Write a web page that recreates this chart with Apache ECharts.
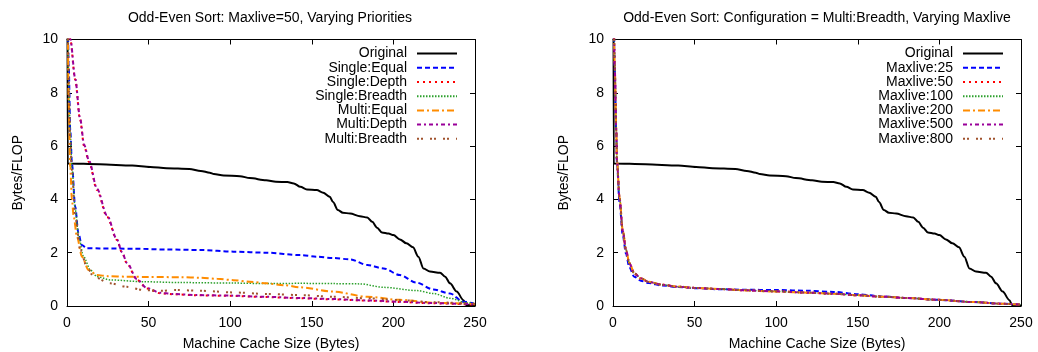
<!DOCTYPE html>
<html>
<head>
<meta charset="utf-8">
<script src="https://cdn.jsdelivr.net/npm/echarts@6/dist/echarts.min.js"></script>
<style>
html,body{margin:0;padding:0;background:#fff;}
#c{width:1038px;height:352px;}
</style>
</head>
<body>
<div id="c"></div>
<script>
// ---------- data ----------
const leftTitle = 'Odd-Even Sort: Maxlive=50, Varying Priorities';
const rightTitle = 'Odd-Even Sort: Configuration = Multi:Breadth, Varying Maxlive';
const xName = 'Machine Cache Size (Bytes)';
const yName = 'Bytes/FLOP';

const leftNames = ['Original','Single:Equal','Single:Depth','Single:Breadth','Multi:Equal','Multi:Depth','Multi:Breadth'];
const rightNames = ['Original','Maxlive:25','Maxlive:50','Maxlive:100','Maxlive:200','Maxlive:500','Maxlive:800'];

const original = [[0.3,12],[0.4,5.35],[20,5.32],[40,5.27],[51,5.22],[61,5.17],[75,5.14],[82,5.07],[87.5,5.0],[90,4.95],[96,4.9],[106,4.87],[112,4.8],[122,4.72],[128,4.66],[135,4.65],[139,4.6],[143,4.47],[147,4.37],[153,4.35],[157,4.25],[161,4.1],[163,3.9],[166,3.6],[169,3.5],[173.5,3.47],[179.5,3.37],[184,3.32],[187,3.16],[190,2.94],[193,2.76],[197,2.72],[200,2.66],[204,2.5],[208,2.35],[212,2.2],[215.3,1.85],[218.4,1.41],[222.4,1.29],[228.6,1.25],[231.7,1.1],[234.7,0.85],[238.8,0.54],[242.9,0.22],[244.5,0.04],[250,0.02]];

const singleEqual = [[0.5,11],[1,9.1],[2,6.6],[3,5.35],[5,3.73],[7,2.73],[9,2.29],[12,2.17],[20,2.16],[41,2.15],[61,2.12],[82,2.1],[102,2.04],[122.5,2.0],[143,1.91],[153,1.85],[163,1.8],[173.5,1.75],[184,1.54],[194,1.41],[204,1.16],[214,0.88],[224.5,0.62],[234.7,0.47],[242.8,0.16],[249,0.1]];
const singleDepth = [[1,11],[2,10],[5,8.5],[8,7.0],[10.5,6.0],[13.5,5.4],[18.4,4.35],[24.5,3.35],[30.6,2.48],[33.7,2.0],[36.7,1.6],[42.9,0.98],[49,0.66],[57,0.48],[65,0.44],[80,0.4],[100,0.38],[120,0.34],[143,0.29],[163,0.25],[184,0.2],[204,0.15],[224,0.1],[250,0.05]];
const singleBreadth = [[0.5,11],[1,8.5],[2,6.5],[3,5.2],[5.1,3.6],[7.1,2.6],[10.2,1.85],[14.3,1.35],[18.4,1.1],[26.5,0.98],[46.9,0.91],[69.4,0.88],[102,0.86],[122.5,0.84],[143,0.85],[163,0.84],[179.6,0.83],[194,0.7],[214.3,0.58],[224.5,0.47],[234.7,0.29],[245,0.12],[250,0.1]];
const multiEqual = [[0.5,11],[1,7.7],[2,5.2],[3,4.0],[4.1,3.35],[6.1,2.6],[9.2,1.85],[13.2,1.35],[18.4,1.16],[25,1.12],[36.7,1.1],[50,1.09],[69.4,1.08],[82,1.06],[92,1.02],[102,0.97],[112,0.91],[122.5,0.85],[133,0.78],[143,0.7],[163,0.54],[184,0.35],[204,0.23],[224.5,0.12],[250,0.07]];
const multiDepth = [[1,11],[2.1,10],[5,8.55],[8,7.05],[10.5,6.05],[13.5,5.45],[18.4,4.4],[24.5,3.4],[30.6,2.5],[33.7,2.02],[36.7,1.62],[42.9,1.0],[49,0.67],[57,0.5],[65,0.45],[80,0.41],[100,0.39],[120,0.35],[143,0.3],[163,0.26],[184,0.21],[204,0.16],[224,0.11],[250,0.06]];
const multiBreadth = [[0.5,11],[1,8.5],[2,6.2],[3,5.1],[5,3.35],[8.2,2.1],[12.2,1.47],[16.3,1.1],[26.5,0.85],[36.7,0.72],[46.9,0.6],[57,0.57],[67,0.6],[82,0.57],[102,0.51],[122.5,0.45],[143,0.41],[163,0.35],[184,0.29],[204,0.22],[224.5,0.14],[250,0.08]];

const maxlive25 = [[0.5,11],[1,9.0],[2,6.5],[2.4,5.4],[4,3.9],[6,2.65],[8,1.95],[10,1.45],[13,1.1],[17,0.95],[22,0.86],[30,0.77],[40,0.71],[50,0.67],[65,0.63],[80,0.61],[100,0.6],[120,0.57],[135,0.53],[150,0.44],[165,0.36],[180,0.3],[200,0.23],[220,0.15],[240,0.08],[250,0.05]];
const maxlive50 = [[0.5,11],[1,9.1],[2,6.6],[2.4,5.45],[4,4.05],[6,2.8],[8,2.08],[10,1.6],[13,1.22],[17,1.03],[22,0.9],[30,0.8],[40,0.72],[50,0.68],[65,0.64],[80,0.59],[100,0.55],[120,0.5],[135,0.46],[150,0.4],[165,0.35],[180,0.3],[200,0.23],[220,0.15],[240,0.08],[250,0.05]];
const maxlive100 = [[0.5,11],[1,9.1],[2,6.6],[2.4,5.45],[4,4.06],[6,2.82],[8,2.1],[10,1.61],[13,1.23],[17,1.04],[22,0.9],[30,0.8],[40,0.72],[50,0.68],[65,0.64],[80,0.59],[100,0.55],[120,0.5],[135,0.46],[150,0.4],[165,0.35],[180,0.3],[200,0.23],[220,0.15],[240,0.08],[250,0.05]];
const maxlive200 = [[0.5,11],[1,9.15],[2,6.65],[2.4,5.5],[4,4.08],[6,2.83],[8,2.1],[10,1.62],[13,1.24],[17,1.04],[22,0.91],[30,0.8],[40,0.73],[50,0.68],[65,0.64],[80,0.59],[100,0.54],[120,0.5],[135,0.46],[150,0.4],[165,0.35],[180,0.3],[200,0.23],[220,0.15],[240,0.08],[250,0.05]];
const maxlive500 = [[0.5,11],[1,9.1],[2,6.6],[2.4,5.45],[4,4.06],[6,2.81],[8,2.09],[10,1.61],[13,1.23],[17,1.04],[22,0.9],[30,0.8],[40,0.72],[50,0.68],[65,0.64],[80,0.59],[100,0.55],[120,0.5],[135,0.46],[150,0.4],[165,0.35],[180,0.3],[200,0.23],[220,0.15],[240,0.08],[250,0.05]];
const maxlive800 = [[0.5,11],[1,9.12],[2,6.62],[2.4,5.47],[4,4.07],[6,2.82],[8,2.1],[10,1.61],[13,1.23],[17,1.04],[22,0.9],[30,0.8],[40,0.72],[50,0.68],[65,0.64],[80,0.59],[100,0.54],[120,0.5],[135,0.46],[150,0.4],[165,0.35],[180,0.3],[200,0.23],[220,0.15],[240,0.08],[250,0.05]];

const leftData = [original, singleEqual, singleDepth, singleBreadth, multiEqual, multiDepth, multiBreadth];
const rightData = [original, maxlive25, maxlive50, maxlive100, maxlive200, maxlive500, maxlive800];

// ---------- styles ----------
const FONT = '"Liberation Sans", Arial, Helvetica, sans-serif';
const FS = 14;
const styles = [
  {color:'#000000', type:'solid', width:2},
  {color:'#0000ff', type:[5,3], width:2},
  {color:'#ff0000', type:[2,4], width:2},
  {color:'#2ca02c', type:[1.5,1.5], width:1.5},
  {color:'#ff8c00', type:[7,3,2,3], width:2},
  {color:'#990099', type:[4,3,2,3], width:2},
  {color:'#a0522d', type:[2,2,2,7], width:2}
];

const X_MIN = 0, X_MAX = 250, X_INT = 50;
const Y_MIN = 0, Y_MAX = 10, Y_INT = 2;

function mkX(gridIndex, pos) {
  const main = pos === 'bottom';
  return {
    type:'value', gridIndex, position:pos, min:X_MIN, max:X_MAX, interval:X_INT,
    name: main ? xName : '', nameLocation:'middle', nameGap:31,
    nameTextStyle:{fontFamily:FONT, fontSize:FS, color:'#000'},
    axisLine:{show:true, onZero:false, lineStyle:{color:'#000', width:1}},
    axisTick:{show:true, inside:true, length:5, lineStyle:{color:'#000'}},
    axisLabel:{show:main, fontFamily:FONT, fontSize:FS, color:'#000', margin:10},
    splitLine:{show:false}
  };
}
function mkY(gridIndex, pos) {
  const main = pos === 'left';
  return {
    type:'value', gridIndex, position:pos, min:Y_MIN, max:Y_MAX, interval:Y_INT,
    name: main ? yName : '', nameLocation:'middle', nameGap:42,
    nameTextStyle:{fontFamily:FONT, fontSize:FS, color:'#000'},
    axisLine:{show:true, onZero:false, lineStyle:{color:'#000', width:1}},
    axisTick:{show:true, inside:true, length:5, lineStyle:{color:'#000'}},
    axisLabel:{show:main, fontFamily:FONT, fontSize:FS, color:'#000', margin:9},
    splitLine:{show:false}
  };
}

const series = [];
function addSeries(names, datas, xi, yi) {
  names.forEach((n, i) => {
    const s = styles[i];
    series.push({
      type:'line', name:n, xAxisIndex:xi, yAxisIndex:yi,
      data:datas[i], showSymbol:false, symbol:'none',
      smooth:0.3, smoothMonotone:'x', clip:true,
      lineStyle:{color:s.color, type:s.type, width:s.width, cap:'butt'},
      itemStyle:{color:s.color},
      z: 2 + i,
      animation:false
    });
  });
}
addSeries(leftNames, leftData, 0, 0);
addSeries(rightNames, rightData, 2, 2);

function mkLegend(names, right) {
  return {
    orient:'vertical', right:right, top:46.5, align:'right', padding:0,
    itemWidth:40, itemHeight:14.2, itemGap:0,
    data:names,
    itemStyle:{opacity:0, borderWidth:0},
    textStyle:{fontFamily:FONT, fontSize:FS, color:'#000', padding:[0,5,0,0], lineHeight:14.2},
    selectedMode:false
  };
}

const option = {
  backgroundColor:'#fff',
  animation:false,
  title:[
    {text:leftTitle, left:270, top:11, padding:0, textAlign:'center', textStyle:{fontFamily:FONT, fontSize:FS, fontWeight:'normal', color:'#000'}},
    {text:rightTitle, left:817, top:11, padding:0, textAlign:'center', textStyle:{fontFamily:FONT, fontSize:FS, fontWeight:'normal', color:'#000'}}
  ],
  grid:[
    {left:67, right:563, top:39.5, bottom:46, containLabel:false, outerBoundsMode:'none'},
    {left:613, right:17, top:39.5, bottom:46, containLabel:false, outerBoundsMode:'none'}
  ],
  xAxis:[mkX(0,'bottom'), mkX(0,'top'), mkX(1,'bottom'), mkX(1,'top')],
  yAxis:[mkY(0,'left'), mkY(0,'right'), mkY(1,'left'), mkY(1,'right')],
  legend:[mkLegend(leftNames, 580), mkLegend(rightNames, 34)],
  series
};

const chart = echarts.init(document.getElementById('c'), null, {renderer:'canvas'});
chart.setOption(option);
</script>
</body>
</html>
